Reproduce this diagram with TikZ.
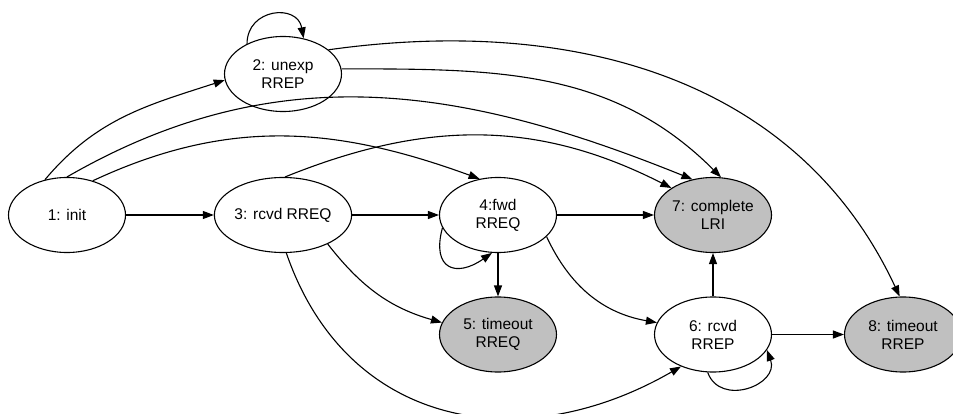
\documentclass[tikz,border=0pt]{standalone}
\usepackage{fontspec}
\setmainfont{Liberation Sans}
\usetikzlibrary{arrows.meta,shapes.geometric}
\definecolor{endgray}{RGB}{192,192,192}
\tikzset{
	st/.style={draw,ellipse,line width=1.1pt,minimum width=117pt,minimum height=75pt,inner sep=0pt,align=center,font=\fontsize{15.5}{18}\selectfont},
	stend/.style={st,fill=endgray},
	tr/.style={line width=1.1pt,-{Triangle[length=11pt,width=8pt]}}
}
\begin{document}
\begin{tikzpicture}[x=1pt,y=1pt]
			\useasboundingbox(0,0)rectangle(953,413);
			\clip(0,0)rectangle(953,413);
			\node[st](s1)at(67,198){1: init};
			\node[st](s2)at(283,339){2: unexp\\RREP};
			\node[st](s3)at(283,198){3: rcvd RREQ};
			\node[st](s4)at(498,198){4:fwd\\RREQ};
			\node[stend](s5)at(498,78.5){5: timeout\\RREQ};
			\node[st](s6)at(713,78.5){6: rcvd\\RREP};
			\node[stend](s7)at(713,198){7: complete\\LRI};
			\node[stend](s8)at(903,78.5){8: timeout\\RREP};
			\draw[tr](s1)--(s3);
			\draw[tr](s3)--(s4);
			\draw[tr](s4)--(s7);
			\draw[tr](s4)--(s5);
			\draw[tr](s6)--(s7);
			\draw[tr](s6)--(s8);
			\draw[tr](s1.122)to[out=50,in=198](s2.186);
			\draw[tr](s1.90)to[out=30,in=158](s7.120);
			\draw[tr](s1.53)to[out=25,in=160](s4.117);
			\draw[tr](s3.87)to[out=22,in=153](s7.147);
			\draw[tr](s2.5)to[out=0,in=135](s7.78);
			\draw[tr](s2.28)to[out=8,in=115](s8.95);
			\draw[tr](s3.-33)to[out=-52,in=164](s5.168);
			\draw[tr](s3.-85)to[out=-71,in=210,looseness=1.15](s6.225);
			\draw[tr](s4.-24)to[out=-65,in=170](s6.168);
			\draw[tr](s2.140)to[out=90,in=100,looseness=1.6](s2.60);
			\draw[tr](s4.193)to[out=255,in=215,looseness=2](s4.261);
			\draw[tr](s6.262)to[out=290,in=290,looseness=1.5](s6.-16);
		\end{tikzpicture}
\end{document}
